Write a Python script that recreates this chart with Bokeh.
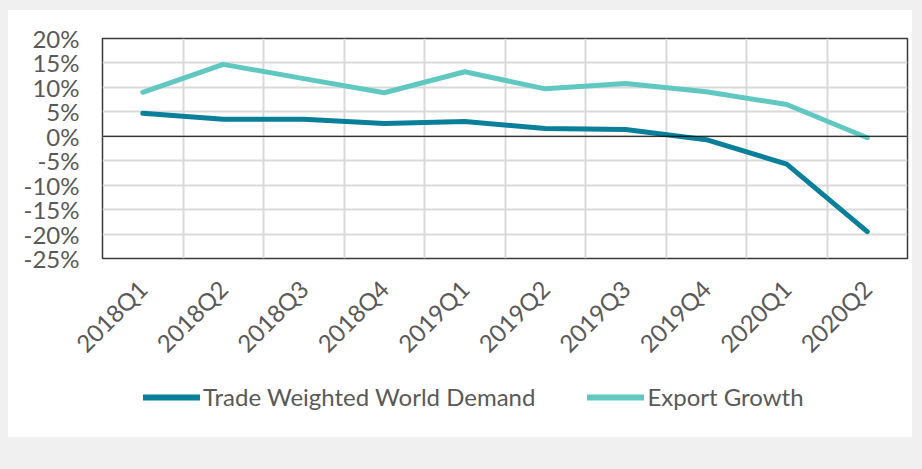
import math
from bokeh.plotting import figure
from bokeh.layouts import column
from bokeh.models import FixedTicker, PrintfTickFormatter, Span, Legend, LegendItem, Range1d
from bokeh.embed import file_html
from bokeh.resources import INLINE

quarters = ["2018Q1", "2018Q2", "2018Q3", "2018Q4", "2019Q1",
            "2019Q2", "2019Q3", "2019Q4", "2020Q1", "2020Q2"]
trade_weighted_world_demand = [4.7, 3.5, 3.5, 2.6, 3.0, 1.6, 1.4, -0.7, -5.7, -19.5]
export_growth = [9.0, 14.7, 11.8, 8.9, 13.2, 9.7, 10.8, 9.1, 6.5, -0.3]
y_ticks = [-25, -20, -15, -10, -5, 0, 5, 10, 15, 20]
series_names = ["Trade Weighted World Demand", "Export Growth"]

DARK = "#0a7f9a"
LIGHT = "#60c8c1"
TEXT = "#595959"
FONT = "Lato"

xs = [i + 0.5 for i in range(len(quarters))]

p = figure(width=904, height=360, output_backend="svg", toolbar_location=None,
           x_range=Range1d(0, len(quarters)), y_range=Range1d(y_ticks[0], y_ticks[-1]),
           min_border_left=94, min_border_right=5, min_border_top=28, min_border_bottom=110,
           background_fill_color="white", border_fill_color="white",
           outline_line_color="#3a3a3a", outline_line_width=1.5)

p.xaxis.ticker = FixedTicker(ticks=xs)
p.xaxis.major_label_overrides = {x: q for x, q in zip(xs, quarters)}
p.xaxis.major_label_orientation = math.pi / 4
p.yaxis.ticker = FixedTicker(ticks=y_ticks)
p.yaxis.formatter = PrintfTickFormatter(format="%d%%")

for ax in (p.xaxis, p.yaxis):
    ax.axis_line_color = None
    ax.major_tick_line_color = None
    ax.minor_tick_line_color = None
    ax.major_label_text_font = FONT
    ax.major_label_text_font_size = "24px"
    ax.major_label_text_color = TEXT
p.yaxis.major_label_standoff = 17
p.xaxis.major_label_standoff = 20

p.xgrid.ticker = FixedTicker(ticks=list(range(1, len(quarters))))
p.ygrid.ticker = FixedTicker(ticks=y_ticks)
for g in (p.xgrid, p.ygrid):
    g.grid_line_color = "#d9d9d9"
    g.grid_line_width = 2

p.add_layout(Span(location=0, dimension="width", line_color="black", line_width=1))

p.line(xs, trade_weighted_world_demand, line_color=DARK, line_width=5,
       line_cap="round", line_join="round")
p.line(xs, export_growth, line_color=LIGHT, line_width=5,
       line_cap="round", line_join="round")

# legend strip below the chart (series drawn out of view, only the legend shows)
lg = figure(width=904, height=67, output_backend="svg", toolbar_location=None,
            x_range=Range1d(0, len(quarters)), y_range=Range1d(1000, 1001),
            x_axis_location=None, y_axis_location=None,
            min_border_left=0, min_border_right=0, min_border_top=0, min_border_bottom=0,
            background_fill_alpha=0, border_fill_color="white",
            outline_line_color=None)
lg.xgrid.visible = False
lg.ygrid.visible = False
k1 = lg.line(xs, trade_weighted_world_demand, line_color=DARK, line_width=6, line_cap="round")
k2 = lg.line(xs, export_growth, line_color=LIGHT, line_width=6, line_cap="round")
legend = Legend(items=[LegendItem(label=series_names[0], renderers=[k1]),
                       LegendItem(label=series_names[1], renderers=[k2])],
                orientation="horizontal", location=(41, 26),
                label_text_font=FONT, label_text_font_size="24px", label_text_color=TEXT,
                glyph_width=57, glyph_height=20, label_standoff=3, spacing=52,
                padding=0, margin=0, border_line_color=None, background_fill_alpha=0)
lg.add_layout(legend)

layout = column(p, lg, spacing=0, styles={"margin-top": "10px", "margin-left": "8px",
                                          "background-color": "white"})

html = file_html(layout, INLINE, title="chart")
html = html.replace("<head>", "<head><style>html,body{background:#f0f0f0;}</style>", 1)
open("out.html", "w").write(html)
